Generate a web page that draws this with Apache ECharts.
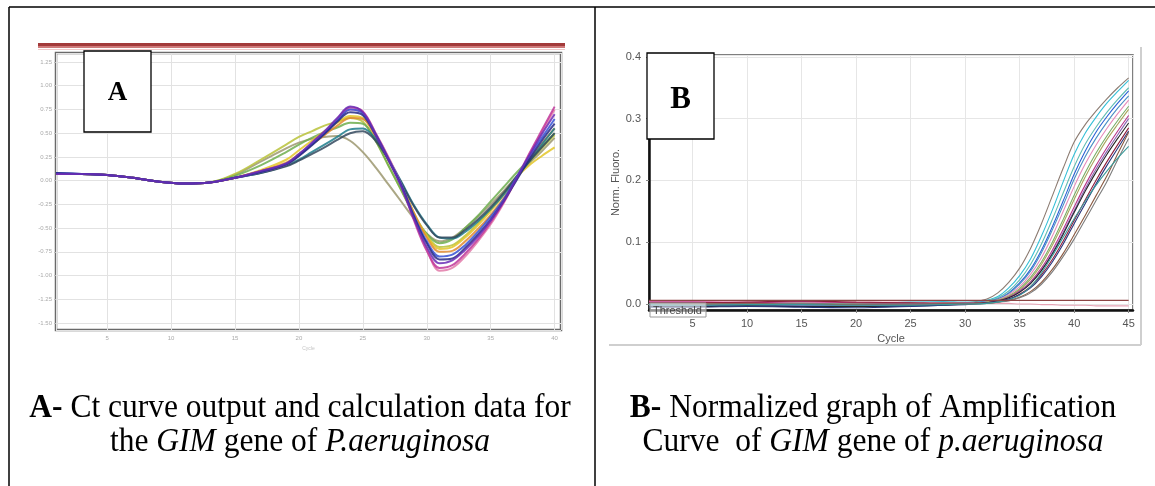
<!DOCTYPE html>
<html><head><meta charset="utf-8">
<script src="https://cdn.jsdelivr.net/npm/echarts@6/dist/echarts.min.js"></script>
<style>html,body{margin:0;padding:0;background:#fff}#c{width:1155px;height:486px}</style>
</head><body><div id="c"></div>
<script>
// ---------- Panel A (Ct / derivative curves) ----------
const XA = [1,3,5,7,9,11,13,15,17,19,20,21,22,23,24,25,26,27,28,29,30,31,32,33,34,35,36,37,38,39,40];
const A_purple  = [.07,.07,.06,.03,-.01,-.03,-.02,.03,.10,.18,.28,.40,.52,.66,.78,.72,.48,.22,-.06,-.40,-.70,-.87,-.84,-.73,-.59,-.42,-.22,.02,.26,.49,.70];
const A_magenta = [.07,.07,.06,.03,-.01,-.03,-.02,.03,.10,.18,.27,.39,.51,.65,.77,.73,.50,.24,-.05,-.42,-.74,-.92,-.89,-.77,-.62,-.44,-.23,.02,.28,.53,.78];
const A_pink    = [.07,.07,.06,.03,-.01,-.03,-.02,.03,.09,.17,.26,.38,.50,.63,.75,.72,.50,.25,-.04,-.40,-.72,-.95,-.92,-.80,-.64,-.46,-.24,.01,.27,.51,.75];
const A_navy    = [.08,.07,.06,.03,-.01,-.03,-.02,.03,.09,.17,.26,.37,.49,.62,.72,.69,.48,.22,-.05,-.38,-.66,-.83,-.82,-.71,-.57,-.41,-.22,.00,.22,.42,.60];
const A_blue    = [.08,.07,.06,.03,-.01,-.03,-.02,.03,.09,.18,.27,.38,.50,.63,.75,.71,.49,.23,-.04,-.37,-.64,-.80,-.78,-.68,-.54,-.38,-.20,.03,.25,.45,.65];
const A_orange  = [.07,.07,.06,.03,-.01,-.03,-.02,.03,.10,.19,.28,.38,.48,.58,.66,.65,.46,.22,-.04,-.34,-.60,-.75,-.74,-.64,-.51,-.36,-.19,.02,.22,.39,.55];
const A_yellow  = [.07,.07,.06,.03,-.01,-.03,-.02,.03,.11,.22,.32,.42,.52,.61,.68,.66,.47,.22,-.04,-.34,-.58,-.72,-.70,-.60,-.47,-.32,-.15,.03,.16,.26,.35];
const A_slate   = [.07,.07,.06,.03,-.01,-.03,-.02,.03,.08,.15,.21,.28,.35,.43,.50,.52,.42,.22,-.02,-.27,-.47,-.60,-.60,-.52,-.41,-.28,-.13,.04,.20,.35,.50];
const A_teal    = [.07,.07,.06,.03,-.01,-.03,-.02,.03,.08,.16,.22,.30,.38,.46,.54,.55,.44,.23,-.01,-.26,-.46,-.60,-.61,-.54,-.43,-.30,-.15,.03,.20,.38,.55];
const A_olive   = [.07,.07,.06,.03,-.01,-.03,-.02,.06,.20,.34,.40,.44,.46,.47,.42,.30,.14,-.04,-.22,-.40,-.56,-.64,-.60,-.50,-.38,-.25,-.11,.04,.18,.31,.45];
const A_green   = [.07,.07,.06,.03,-.01,-.03,-.02,.05,.16,.30,.38,.45,.51,.56,.61,.60,.42,.16,-.10,-.36,-.56,-.66,-.62,-.50,-.37,-.22,-.07,.08,.22,.36,.50];
const A_ygreen  = [.07,.07,.06,.03,-.01,-.03,-.02,.07,.22,.38,.46,.52,.58,.62,.66,.62,.42,.16,-.10,-.36,-.58,-.70,-.68,-.58,-.45,-.30,-.14,.03,.19,.34,.48];
const A_SERIES = [
  ['#9c9870',A_olive],['#b8c23a',A_ygreen],['#6fae4f',A_green],['#e3c628',A_yellow],['#e08a30',A_orange],
  ['#1f7d8c',A_teal],['#34495e',A_slate],['#e27aa8',A_pink],['#c0369a',A_magenta],['#3550d6',A_blue],
  ['#262a86',A_navy],['#6a2db5',A_purple]
];
const A_X_TICKS = [5,10,15,20,25,30,35,40];

// ---------- Panel B (normalized amplification) ----------
const XB = [1,5,10,15,20,25,28,30,31,32,33,34,35,36,37,38,39,40,41,42,43,44,45];
const B1  = [-.002,.000,.001,.000,-.001,.000,.001,.002,.004,.008,.018,.035,.058,.090,.130,.175,.220,.262,.290,.312,.332,.350,.366];
const B2  = [.001,.002,.002,.001,.000,.003,.004,.003,.003,.006,.012,.026,.046,.073,.110,.152,.198,.242,.276,.302,.325,.344,.362];
const B3  = [-.003,-.002,-.001,-.002,-.003,-.002,.000,.001,.002,.005,.010,.021,.039,.064,.097,.137,.180,.222,.258,.286,.310,.331,.350];
const B4  = [-.004,-.003,-.002,-.003,-.004,-.003,-.001,.000,.002,.004,.008,.018,.034,.056,.087,.125,.167,.210,.247,.278,.303,.325,.345];
const B5  = [.000,.001,.000,-.001,-.002,-.001,.000,.001,.002,.004,.008,.017,.032,.053,.083,.120,.160,.202,.238,.268,.294,.317,.337];
const B6  = [.004,.004,.003,.003,.002,.002,.002,.002,.002,.003,.007,.015,.028,.048,.075,.110,.150,.190,.226,.257,.284,.308,.330];
const B7  = [-.001,.000,.001,.001,.000,.000,.001,.001,.001,.003,.006,.013,.025,.043,.068,.100,.137,.176,.212,.244,.272,.297,.320];
const B8  = [.002,.001,.000,-.001,.000,.001,.001,.001,.001,.003,.006,.012,.023,.040,.064,.095,.131,.169,.205,.237,.266,.291,.315];
const B9  = [.003,.003,.002,.004,.002,.001,.001,.001,.001,.002,.005,.011,.021,.036,.058,.087,.121,.157,.192,.224,.253,.280,.305];
const B10 = [-.002,-.002,-.001,-.002,-.002,-.001,.000,.001,.001,.002,.005,.010,.020,.034,.055,.083,.116,.151,.186,.218,.247,.274,.300];
const B11 = [-.004,-.004,-.003,-.004,-.004,-.003,-.002,.000,.001,.002,.005,.010,.019,.033,.054,.081,.113,.148,.182,.213,.242,.268,.293];
const B12 = [.002,.002,.003,.005,.003,.002,.001,.001,.001,.002,.004,.008,.016,.028,.047,.072,.102,.135,.168,.200,.230,.258,.285];
const B13 = [-.005,-.005,-.004,-.005,-.006,-.004,-.002,-.001,.000,.002,.004,.008,.015,.026,.044,.068,.097,.130,.162,.194,.224,.252,.280];
const B14 = [.000,.000,.001,.000,-.001,.000,.000,.000,.001,.001,.003,.006,.011,.020,.035,.056,.082,.112,.143,.175,.207,.243,.278];
const B15 = [.001,.000,.000,.001,.000,.000,.000,.000,.000,.001,.003,.005,.010,.018,.032,.052,.077,.105,.136,.167,.198,.234,.268];
const B16 = [-.001,-.002,-.001,-.001,-.002,-.002,-.001,.000,.000,.001,.003,.007,.014,.028,.050,.078,.108,.138,.166,.192,.215,.236,.255];
const B_NTC = [.004,.004,.003,.003,.003,.003,.002,.002,.002,.002,.001,.001,.000,.000,-.001,-.001,-.002,-.002,-.002,-.003,-.003,-.003,-.003];
const B_SERIES = [
  ['#e6a3b5',B_NTC],['#8c7c72',B1],['#36bfd6',B2],['#62bdb3',B3],['#2a62d4',B4],['#4b8fc4',B5],['#e68bbb',B6],
  ['#79ae66',B7],['#a9a65c',B8],['#b8358a',B9],['#8864b2',B10],['#262626',B11],['#8e1f3e',B12],
  ['#27357c',B13],['#8a5a42',B14],['#7d7d7d',B15],['#3a9a9a',B16]
];
const THRESHOLD = 0.006;
const B_X_RANGE = [1,45];

const pairs = (xs, ys) => xs.map((x,i)=>[x, ys[i]]);
const series = [];
A_SERIES.forEach(([c,d])=>series.push({type:'line',xAxisIndex:0,yAxisIndex:0,data:pairs(XA,d),smooth:0.35,showSymbol:false,silent:true,
  lineStyle:{color:c,width:2,opacity:0.85},z:3}));
B_SERIES.forEach(([c,d])=>series.push({type:'line',xAxisIndex:1,yAxisIndex:1,data:pairs(XB,d),smooth:0.3,showSymbol:false,silent:true,
  lineStyle:{color:c,width:1.1},z:3}));
series.push({type:'line',xAxisIndex:1,yAxisIndex:1,data:[[B_X_RANGE[0],THRESHOLD],[B_X_RANGE[1],THRESHOLD]],showSymbol:false,silent:true,
  lineStyle:{color:'#8e4646',width:1.3},z:4});

const serif = '"Liberation Serif", "Times New Roman", serif';
const FS = 31.5;
const rich = {
  n:{fontSize:FS,fontFamily:serif,fill:'#000',color:'#000'},
  b:{fontSize:FS,fontFamily:serif,fontWeight:'bold',fill:'#000',color:'#000'},
  i:{fontSize:FS,fontFamily:serif,fontStyle:'italic',fill:'#000',color:'#000'}
};
function cap(x,y,text){return {type:'text',x:x,y:y,scaleY:1.1,z:200,style:{text:text,rich:rich,font:FS+'px '+serif,fill:'#000',align:'center',verticalAlign:'middle',textAlign:'center',textVerticalAlign:'middle'}};}

const option = {
  animation:false,
  backgroundColor:'#fff',
  grid:[
    {left:56,top:53,width:505,height:277,show:true,borderColor:'#6a6a6a',borderWidth:2.5,backgroundColor:'#fff'},
    {left:649,top:55,width:484,height:255,show:true,borderColor:'#555',borderWidth:1.5,backgroundColor:'#fff'}
  ],
  xAxis:[
    {type:'value',gridIndex:0,min:1,max:40.5,minInterval:5,maxInterval:5,
     axisLine:{show:false,onZero:false},axisTick:{show:false},splitLine:{lineStyle:{color:'#e2e2e2'}},
     axisLabel:{fontSize:6,color:'#aaa',margin:5,showMinLabel:false,showMaxLabel:false},
     name:'Cycle',nameLocation:'middle',nameGap:14,nameTextStyle:{fontSize:5,color:'#c4c4c4'}},
    {type:'value',gridIndex:1,min:1,max:45.4,minInterval:5,maxInterval:5,
     axisLine:{show:true,onZero:false,lineStyle:{color:'#111',width:2.5}},
     axisTick:{show:true,length:3,lineStyle:{color:'#888'}},
     splitLine:{lineStyle:{color:'#e6e6e6'}},
     axisLabel:{fontSize:11,color:'#555',margin:8,fontFamily:'"Liberation Sans", Arial',showMinLabel:false,showMaxLabel:false},
     name:'Cycle',nameLocation:'middle',nameGap:23,nameTextStyle:{fontSize:11,color:'#555',fontFamily:'"Liberation Sans", Arial'}}
  ],
  yAxis:[
    {type:'value',gridIndex:0,min:-1.574,max:1.345,minInterval:0.25,maxInterval:0.25,
     axisLine:{show:false,onZero:false},axisTick:{show:true,length:2,lineStyle:{color:'#bbb'}},
     splitLine:{lineStyle:{color:'#e2e2e2'}},
     axisLabel:{fontSize:6,color:'#aaa',margin:4,formatter:v=>v.toFixed(2),showMinLabel:false,showMaxLabel:false}},
    {type:'value',gridIndex:1,min:-0.0097,max:0.403,minInterval:0.1,maxInterval:0.1,
     axisLine:{show:true,onZero:false,lineStyle:{color:'#111',width:2.5}},
     axisTick:{show:true,length:3,lineStyle:{color:'#888'}},
     splitLine:{lineStyle:{color:'#e6e6e6'}},
     axisLabel:{fontSize:11,color:'#555',margin:8,fontFamily:'"Liberation Sans", Arial',formatter:v=>v.toFixed(1),showMinLabel:false,showMaxLabel:false},
     name:'Norm. Fluoro.',nameLocation:'middle',nameGap:26,nameRotate:90,nameTextStyle:{fontSize:11,color:'#555',fontFamily:'"Liberation Sans", Arial'}}
  ],
  series:series,
  graphic:{elements:[
    {type:'line',z:150,shape:{x1:9,y1:7,x2:1155,y2:7},style:{stroke:'#000',lineWidth:1.5}},
    {type:'line',z:150,shape:{x1:9,y1:7,x2:9,y2:486},style:{stroke:'#000',lineWidth:1.5}},
    {type:'line',z:150,shape:{x1:595,y1:7,x2:595,y2:486},style:{stroke:'#000',lineWidth:1.5}},
    {type:'rect',z:150,shape:{x:38,y:43,width:527,height:3},style:{fill:'#a33a3a'}},
    {type:'rect',z:150,shape:{x:38,y:46,width:527,height:2},style:{fill:'#cf7a7a'}},
    {type:'line',z:150,shape:{x1:38,y1:49.5,x2:565,y2:49.5},style:{stroke:'#f0c8c8',lineWidth:1}},
    {type:'rect',z:160,shape:{x:84,y:51,width:67,height:81},style:{fill:'#fff',stroke:'#000',lineWidth:1.3}},
    {type:'text',z:161,x:117.5,y:93,style:{text:'A',font:'bold 27px '+serif,fill:'#000',align:'center',verticalAlign:'middle',textAlign:'center',textVerticalAlign:'middle'}},
    {type:'rect',z:160,shape:{x:647,y:53,width:67,height:86},style:{fill:'#fff',stroke:'#000',lineWidth:1.3}},
    {type:'text',z:161,x:680.5,y:100,style:{text:'B',font:'bold 31px '+serif,fill:'#000',align:'center',verticalAlign:'middle',textAlign:'center',textVerticalAlign:'middle'}},
    {type:'line',z:150,shape:{x1:1141,y1:47,x2:1141,y2:345},style:{stroke:'#cfcfcf',lineWidth:2}},
    {type:'line',z:150,shape:{x1:609,y1:345,x2:1141,y2:345},style:{stroke:'#cfcfcf',lineWidth:2}},
    {type:'rect',z:160,shape:{x:650,y:303,width:56,height:14},style:{fill:'rgba(255,255,255,0.55)',stroke:'#9a9a9a',lineWidth:1}},
    {type:'text',z:161,x:653,y:310.5,style:{text:'Threshold',font:'11px "Liberation Sans", Arial',fill:'#444',align:'left',verticalAlign:'middle',textAlign:'left',textVerticalAlign:'middle'}},
    cap(300,408,'{b|A-}{n| Ct curve output and calculation data for}'),
    cap(300,442,'{n|the }{i|GIM}{n| gene of }{i|P.aeruginosa}'),
    cap(873,408,'{b|B-}{n| Normalized graph of Amplification}'),
    cap(873,442,'{n|Curve  of }{i|GIM}{n| gene of }{i|p.aeruginosa}')
  ]}
};
const chart = echarts.init(document.getElementById('c'), null, {renderer:'canvas'});
chart.setOption(option);
</script>
</body></html>
